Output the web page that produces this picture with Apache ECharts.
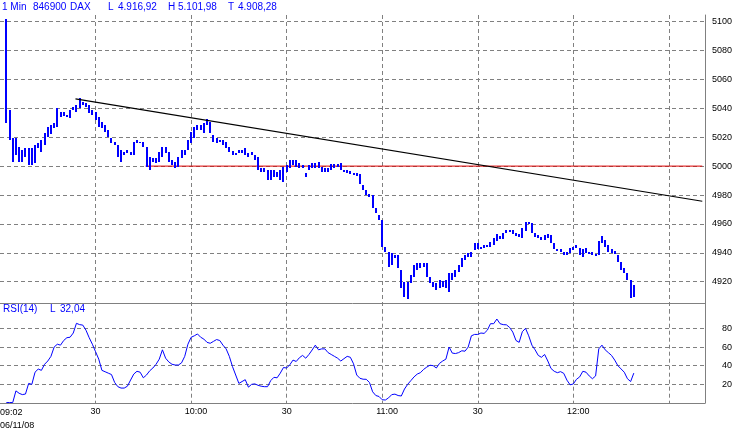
<!DOCTYPE html>
<html><head><meta charset="utf-8">
<script src="https://cdn.jsdelivr.net/npm/echarts@6/dist/echarts.min.js"></script>
<style>html,body{margin:0;padding:0;background:#fff}#c{width:736px;height:433px}</style>
</head><body><div id="c"></div>
<script>
// minutes since 09:00; first bar at 09:02
const startMinute = 2;
const lows = [
5029.9,5018.1,5002.9,5007.7,5002.9,5002.9,5006.3,5000.8,5000.8,5002.2,
5012.6,5009.8,5014.6,5020.2,5022.5,5026.4,5027.1,5034.0,5034.7,5034.0,
5033.3,5038.9,5037.5,5040.3,5042.3,5040.9,5036.8,5035.4,5031.9,5027.1,
5026.4,5023.6,5020.2,5016.0,5014.6,5006.3,5002.9,5007.7,5009.1,5007.7,
5007.7,5016.0,5016.0,5013.3,4999.4,4997.3,5002.9,5002.2,5002.9,5006.3,
5009.1,5002.9,5000.8,4998.7,4999.4,5005.6,5007.7,5011.2,5016.0,5019.5,
5025.0,5025.0,5023.0,5028.5,5023.0,5016.7,5016.0,5016.7,5014.6,5012.6,
5009.8,5007.7,5007.7,5009.1,5009.1,5007.7,5006.3,5007.7,5004.3,4997.3,
4996.0,4996.0,4990.4,4990.4,4992.5,4992.5,4990.4,4989.0,4996.0,4998.7,
5000.8,4999.4,4998.7,4998.7,4992.5,4997.3,4998.7,4998.7,4998.7,4996.0,
4996.0,4996.0,4997.3,4998.7,4999.4,4997.3,4996.0,4995.3,4994.6,4993.9,
4993.2,4987.7,4983.5,4980.0,4978.7,4971.0,4967.6,4962.7,4944.1,4940.6,
4930.2,4931.6,4936.4,4929.5,4915.7,4909.4,4908.3,4919.1,4923.3,4928.1,
4929.5,4930.2,4923.3,4919.1,4916.4,4914.3,4915.7,4916.4,4915.7,4912.9,
4921.2,4923.3,4926.7,4930.2,4935.1,4937.1,4937.1,4942.0,4942.7,4942.7,
4943.4,4944.1,4944.1,4945.4,4948.2,4949.6,4949.6,4953.7,4954.4,4953.0,
4951.7,4951.0,4950.3,4955.1,4960.0,4953.7,4951.0,4950.3,4948.9,4948.9,
4950.3,4946.8,4942.7,4941.3,4940.6,4938.5,4938.5,4939.9,4942.0,4943.4,
4938.5,4937.1,4939.9,4939.2,4938.5,4937.8,4938.5,4946.8,4944.1,4940.6,
4939.9,4939.2,4933.7,4928.1,4926.1,4921.2,4909.0,4909.5
];
const highs = [
5101.98,5038.9,5019.5,5019.5,5013.3,5011.2,5012.6,5012.6,5012.6,5014.6,
5016.0,5018.1,5023.0,5027.1,5028.5,5029.9,5040.3,5037.5,5037.5,5035.4,
5038.9,5040.9,5042.3,5046.9,5044.4,5043.7,5042.3,5038.9,5037.5,5034.0,
5030.6,5028.5,5025.0,5019.5,5016.7,5014.6,5011.2,5009.8,5011.2,5009.8,
5016.7,5018.1,5016.7,5016.7,5013.3,5006.3,5005.6,5005.6,5009.8,5013.3,
5013.3,5009.8,5004.3,5002.9,5006.3,5011.2,5011.2,5018.1,5023.6,5027.1,
5028.5,5028.5,5029.9,5032.6,5030.6,5021.6,5019.5,5018.1,5018.1,5016.7,
5013.3,5010.5,5009.1,5011.2,5011.2,5012.6,5009.1,5009.8,5007.7,5006.3,
4998.7,4998.7,4997.3,4997.3,4997.3,4996.0,4997.3,4999.4,5000.8,5004.3,
5004.3,5004.3,5002.2,5000.8,4995.3,5000.8,5002.2,5002.2,5002.9,4999.4,
4998.7,4998.7,5001.5,5001.5,5001.5,5002.2,4997.3,4997.3,4996.7,4995.3,
4995.3,4994.6,4987.0,4983.5,4980.7,4980.0,4971.0,4966.2,4962.7,4944.1,
4940.6,4939.9,4938.5,4938.5,4928.1,4919.8,4919.8,4924.7,4931.6,4933.0,
4933.0,4933.0,4933.0,4923.3,4919.8,4919.1,4921.2,4920.5,4921.2,4926.1,
4926.1,4928.1,4931.6,4936.4,4938.5,4939.9,4940.6,4946.8,4946.8,4944.1,
4945.4,4945.4,4947.5,4950.3,4953.0,4951.7,4953.7,4955.8,4955.8,4955.8,
4953.7,4953.0,4957.2,4961.4,4961.4,4960.7,4953.7,4952.4,4951.0,4952.4,
4953.0,4952.4,4946.8,4942.7,4942.7,4940.6,4940.6,4943.4,4944.1,4945.4,
4943.4,4942.7,4943.4,4940.6,4940.6,4939.2,4948.2,4951.7,4948.9,4945.4,
4942.7,4941.3,4938.5,4933.7,4929.5,4926.1,4921.2,4917.7
];
const rsi = [
0.5,0.5,0.5,13,10.4,9,9.6,21,20,33,
36.4,35,41.5,45,50,60,63,62,67,70,
70.5,75,85.4,84,83.5,78,70,63,55,47,
35,33.5,32,30.5,22,17.5,16,16,18,24.6,
31,34,33,27,30,34.5,37.5,41.5,47,57,
48,44,41.5,40.7,40.7,43,50,63,70.4,72,
74,70.5,68.5,65,64,66,68,67,62,58,
50,39,30,21,23,25,17,20,20.5,19,
18,17.5,17.5,24,27.5,27,32,38,37.5,41,
46,44.5,48.5,51,48,52,56.8,62,57,58,
58,54,52,50,48,45,47.5,50,49,42,
30,26.5,25.5,25.4,22,12,8,7,3.5,3.2,
5.5,9,9.5,8,7.5,15,20,24,28,31,
32.5,36,38.5,40.5,40,37.5,42.5,45,47,60,
53.5,53,54,56,55.5,60,72,73.5,73.5,75,
74.6,78,85,85,90,85,84,83.8,81,76,
67,65,76.4,80,72,62,57,51,49,52,
45,37,34,32.5,33.6,31.8,24.5,19.5,20.4,25.4,
28,34,33,29,26,29,58,62,57,54,
51,46,40,36.5,33,26,23,32.04
];
const timeLabels = {30:'30', 60:'10:00', 90:'30', 120:'11:00', 150:'30', 180:'12:00'};
const trendX = [23.7, 220.5], trendY = [5046.5, 4975.7];
const levelX = [45.7, 220.5], levelY = [5000, 5000];
const headerTexts = [['1 Min',2],['846900',33],['DAX',70],['L',108],['4.916,92',118],['H',168],['5.101,98',178],['T',228],['4.908,28',238]];
const rsiTexts = [['RSI(14)',3],['L',50],['32,04',60]];

const barData = lows.map((l, i) => [startMinute + i, l, highs[i]]);
const rsiData = rsi.map((v, i) => [startMinute + i, v]);
const xMax = 221.35;
const FONT = 'Liberation Sans, Arial, sans-serif';
const BLUE = '#0000ff';
const gridLine = {color: '#808080', type: [4, 3], width: 1};

const chart = echarts.init(document.getElementById('c'), null, {renderer: 'canvas'});
const gText = [];
headerTexts.forEach(([t, x]) => gText.push({type: 'text', x: x, y: 7, style: {text: t, fill: BLUE, font: '10px ' + FONT, textVerticalAlign: 'middle'}}));
rsiTexts.forEach(([t, x]) => gText.push({type: 'text', x: x, y: 309, style: {text: t, fill: BLUE, font: '10px ' + FONT, textVerticalAlign: 'middle'}}));
gText.push({type: 'text', x: 0, y: 412.5, style: {text: '09:02', fill: '#000', font: '9px ' + FONT, textVerticalAlign: 'middle'}});
gText.push({type: 'text', x: 0, y: 425.5, style: {text: '06/11/08', fill: '#000', font: '9px ' + FONT, textVerticalAlign: 'middle'}});

chart.setOption({
  animation: false,
  backgroundColor: '#fff',
  textStyle: {fontFamily: FONT},
  graphic: gText,
  grid: [
    {left: 0, width: 705, top: 15, height: 295.6, containLabel: false, outerBoundsMode: 'none'},
    {left: 0, width: 705, top: 309.7, height: 93.3, containLabel: false, outerBoundsMode: 'none'}
  ],
  xAxis: [
    {gridIndex: 0, type: 'value', min: 0, max: xMax, interval: 30,
     axisLine: {show: false, onZero: false}, axisTick: {show: false}, axisLabel: {show: false},
     splitLine: {show: true, showMinLine: false, showMaxLine: false, lineStyle: gridLine}},
    {gridIndex: 1, type: 'value', min: 0, max: xMax, interval: 30, position: 'bottom',
     axisLine: {show: true, onZero: false, lineStyle: {color: '#808080', width: 1}}, axisTick: {show: false},
     axisLabel: {color: '#000', fontSize: 9, fontFamily: FONT, margin: 4, showMinLabel: false, showMaxLabel: false,
       formatter: v => { const s = timeLabels[Math.round(v)] || ''; return s.indexOf(':') >= 0 ? '{h|' + s + '}' : s; },
       rich: {h: {padding: [0, 0, 0, 10], fontSize: 9, color: '#000', fontFamily: FONT}}},
     splitLine: {show: true, showMinLine: false, showMaxLine: false, lineStyle: gridLine}},
    {gridIndex: 1, type: 'value', min: 0, max: xMax, position: 'top', offset: 6.4,
     axisLine: {show: true, onZero: false, lineStyle: {color: '#808080', width: 1}}, axisTick: {show: false},
     axisLabel: {show: false}, splitLine: {show: false}}
  ],
  yAxis: [
    {gridIndex: 0, type: 'value', position: 'right', min: 4900, max: 5104.6, interval: 20,
     axisLine: {show: true, onZero: false, lineStyle: {color: '#808080', width: 1}}, axisTick: {show: false},
     axisLabel: {color: '#000', fontSize: 9, fontFamily: FONT, align: 'right', margin: 27, showMinLabel: false, showMaxLabel: false,
       formatter: v => String(Math.round(v))},
     splitLine: {show: true, showMinLine: false, showMaxLine: false, lineStyle: gridLine}},
    {gridIndex: 1, type: 'value', position: 'right', min: 0, max: 100, interval: 20,
     axisLine: {show: true, onZero: false, lineStyle: {color: '#808080', width: 1}}, axisTick: {show: false},
     axisLabel: {color: '#000', fontSize: 9, fontFamily: FONT, align: 'right', margin: 27, showMinLabel: false, showMaxLabel: false,
       formatter: v => String(Math.round(v))},
     splitLine: {show: true, showMinLine: false, showMaxLine: false, lineStyle: gridLine}}
  ],
  series: [
    {type: 'custom', xAxisIndex: 0, yAxisIndex: 0, data: barData, encode: {x: 0, y: [1, 2]}, silent: true, z: 3,
     renderItem: (params, api) => {
       const x = api.value(0);
       const lo = api.coord([x, api.value(1)]);
       const hi = api.coord([x, api.value(2)]);
       const top = Math.round(hi[1]);
       const h = Math.max(1, Math.round(lo[1]) - top);
       return {type: 'rect', shape: {x: Math.round(lo[0]) - 1, y: top, width: 2, height: h}, style: {fill: BLUE}};
     }},
    {type: 'line', xAxisIndex: 0, yAxisIndex: 0, data: trendX.map((x, i) => [x, trendY[i]]), symbol: 'none', silent: true, z: 4,
     lineStyle: {color: '#000', width: 1.2}},
    {type: 'line', xAxisIndex: 0, yAxisIndex: 0, data: levelX.map((x, i) => [x, levelY[i]]), symbol: 'none', silent: true, z: 2,
     lineStyle: {color: '#dd0000', width: 1}},
    {type: 'line', xAxisIndex: 1, yAxisIndex: 1, data: rsiData, symbol: 'none', silent: true, z: 3,
     lineStyle: {color: BLUE, width: 1}}
  ]
});
</script>
</body></html>
